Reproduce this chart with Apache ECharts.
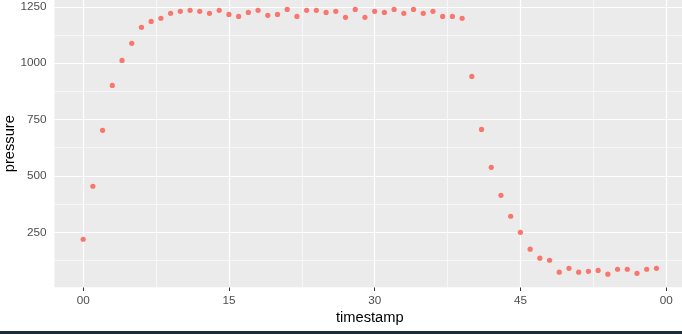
<!DOCTYPE html>
<html>
<head>
<meta charset="utf-8">
<script src="https://cdn.jsdelivr.net/npm/echarts@6/dist/echarts.min.js"></script>
<style>
  html, body { margin: 0; padding: 0; background: #fff; }
  #chart { width: 682px; height: 334px; position: relative; }
  #bar { position: absolute; left: 0; top: 331px; width: 682px; height: 3px; background: #1c2b3a; }
</style>
</head>
<body>
<div id="chart"></div>
<div id="bar"></div>
<script>
// minute of the timestamp
const timestamps = [];
for (let m = 0; m < 60; m++) timestamps.push(m);
const pressure = [
  219, 454, 702, 901, 1012, 1088, 1159, 1185, 1199, 1221,
  1230, 1234, 1230, 1221, 1234, 1216, 1207, 1225, 1234, 1212,
  1216, 1238, 1207, 1234, 1234, 1225, 1230, 1203, 1238, 1203,
  1230, 1225, 1238, 1221, 1238, 1221, 1230, 1207, 1207, 1199,
  941, 706, 538, 414, 321, 250, 175, 135, 126, 73,
  90, 73, 77, 81, 64, 86, 86, 68, 86, 90
];
const xTickValues = [0, 15, 30, 45, 60];
const xTickLabels = ['00', '15', '30', '45', '00'];
const xMinorValues = [7.5, 22.5, 37.5, 52.5];
const yTickValues = [250, 500, 750, 1000, 1250];
const yTickLabels = ['250', '500', '750', '1000', '1250'];
const yMinorValues = [125, 375, 625, 875, 1125];

const points = timestamps.map((t, i) => [t, pressure[i]]);
const font = 'Liberation Sans, Arial, sans-serif';

const gridLines = [];
xMinorValues.forEach(v => gridLines.push({ xAxis: v, lineStyle: { width: 0.6 } }));
yMinorValues.forEach(v => gridLines.push({ yAxis: v, lineStyle: { width: 0.6 } }));
xTickValues.forEach(v => gridLines.push({ xAxis: v, lineStyle: { width: 1.2 } }));
yTickValues.forEach(v => gridLines.push({ yAxis: v, lineStyle: { width: 1.2 } }));

const chart = echarts.init(document.getElementById('chart'), null, { renderer: 'canvas' });
chart.setOption({
  animation: false,
  backgroundColor: '#ffffff',
  grid: {
    left: 54.5, top: 0, width: 630.6, height: 287.3,
    containLabel: false, outerBoundsMode: 'none',
    show: true, backgroundColor: '#EBEBEB', borderWidth: 0
  },
  xAxis: {
    type: 'value', min: -2.95, max: 61.95,
    name: 'timestamp', nameLocation: 'middle', nameGap: 23, nameMoveOverlap: false,
    nameTextStyle: { color: '#000', fontSize: 14.67, fontFamily: font },
    axisLine: { show: false },
    axisTick: { show: true, length: 3.7, customValues: xTickValues, lineStyle: { color: '#333', width: 1 } },
    axisLabel: {
      customValues: xTickValues, margin: 7,
      color: '#4D4D4D', fontSize: 11.73, fontFamily: font,
      formatter: v => xTickLabels[xTickValues.indexOf(v)]
    },
    splitLine: { show: false }
  },
  yAxis: {
    type: 'value', min: 6, max: 1280,
    name: 'pressure', nameLocation: 'middle', nameRotate: 90, nameGap: 37, nameMoveOverlap: false,
    nameTextStyle: { color: '#000', fontSize: 14.67, fontFamily: font },
    axisLine: { show: false },
    axisTick: { show: true, length: 3.7, customValues: yTickValues, lineStyle: { color: '#333', width: 1 } },
    axisLabel: {
      customValues: yTickValues, margin: 8,
      color: '#4D4D4D', fontSize: 11.73, fontFamily: font,
      formatter: v => yTickLabels[yTickValues.indexOf(v)]
    },
    splitLine: { show: false }
  },
  series: [
    {
      type: 'scatter', data: [], z: 1, silent: true,
      markLine: {
        silent: true, symbol: ['none', 'none'], label: { show: false },
        lineStyle: { color: '#ffffff', type: 'solid' },
        data: gridLines
      }
    },
    {
      type: 'scatter', z: 5, data: points,
      symbol: 'circle', symbolSize: 5.2,
      itemStyle: { color: '#F8766D', opacity: 1 }
    }
  ]
});
</script>
</body>
</html>
